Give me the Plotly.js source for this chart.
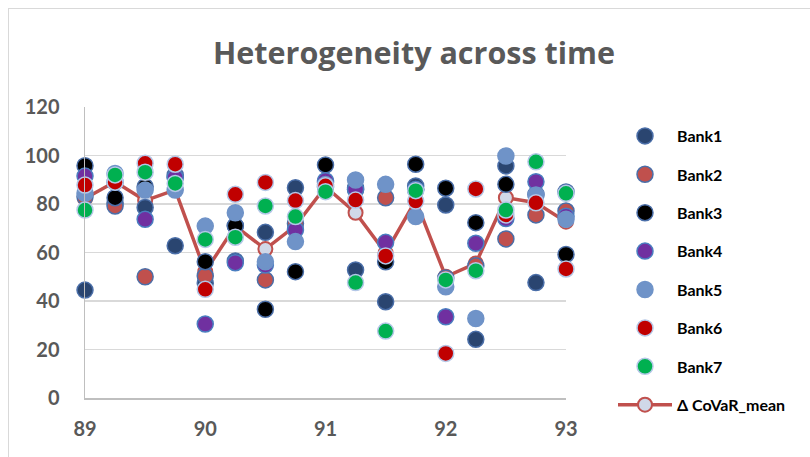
<!DOCTYPE html>
<html>
<head>
<meta charset="utf-8">
<script src="https://cdn.plot.ly/plotly-3.0.1.min.js"></script>
<style>
  html, body { margin: 0; padding: 0; background: #fff; overflow: hidden; }
  #chart { width: 810px; height: 457px; position: absolute; left: 0; top: 0; }
  #frame { position: absolute; left: 8px; top: 8px; width: 900px; height: 900px;
           border: 1.5px solid #D9D9D9; pointer-events: none; }
</style>
</head>
<body>
<div id="chart"></div>
<div id="frame"></div>
<script>
const periods = [89, 89.25, 89.5, 89.75, 90, 90.25, 90.5, 90.75, 91, 91.25, 91.5, 91.75, 92, 92.25, 92.5, 92.75, 93];
const tickValues = [89, 90, 91, 92, 93];
const tickLabels = ["89", "90", "91", "92", "93"];

const bank1 = [44.5, 80.5, 78.6, 62.8, 47.3, 56.5, 68.3, 86.7, 89.0, 52.8, 39.7, 87.4, 79.6, 24.2, 95.7, 47.6, 85.0];
const bank2 = [83.0, 79.2, 50.0, 92.0, 50.3, 71.0, 48.7, 72.0, 87.0, 86.0, 82.6, 86.0, 49.5, 54.5, 65.6, 75.5, 77.1];
const bank3 = [95.8, 82.6, 87.1, 91.0, 56.2, 71.0, 36.6, 52.1, 96.1, 86.6, 56.2, 96.4, 86.5, 72.3, 88.1, 84.0, 59.2];
const bank4 = [91.5, 89.0, 73.7, 91.0, 30.5, 55.8, 54.8, 69.3, 89.6, 86.0, 64.2, 86.0, 33.5, 63.8, 74.0, 89.2, 75.0];
const bank5 = [84.4, 92.6, 85.8, 85.8, 70.9, 76.4, 56.2, 64.5, 88.0, 89.9, 88.1, 74.8, 45.9, 32.8, 99.8, 83.7, 73.7];
const bank6 = [87.8, 89.0, 96.8, 96.4, 44.8, 84.0, 88.9, 81.4, 87.5, 81.6, 58.6, 81.2, 18.4, 86.2, 75.5, 80.5, 53.2];
const bank7 = [77.5, 92.0, 93.1, 88.5, 65.4, 66.3, 79.2, 74.8, 85.1, 47.6, 27.6, 85.5, 48.7, 52.5, 77.5, 97.4, 84.4];
const covarMean = [82.3, 89.2, 81.4, 85.8, 52.1, 70.9, 61.4, 71.0, 87.1, 76.4, 59.8, 81.5, 50.0, 55.5, 82.6, 80.5, 72.7];

const seriesNames = ["Bank1", "Bank2", "Bank3", "Bank4", "Bank5", "Bank6", "Bank7"];
const seriesValues = [bank1, bank2, bank3, bank4, bank5, bank6, bank7];
const fills = ["#2A4570", "#C0504D", "#000000", "#7030A0", "#6F93C8", "#C00000", "#00B050"];
const borders = ["#4A6EA8", "#4A6EA8", "#4A6EA8", "#4A7EC0", "#6F93C8", "#B4C7E7", "#B4C7E7"];

const traces = [];
traces.push({
  x: periods, y: covarMean, type: "scatter", mode: "lines+markers",
  name: "Δ CoVaR_mean", legendrank: 8, legendgroup: "m",
  line: { color: "#C0504D", width: 3.5 },
  marker: { size: 14, color: "#D0D8E8", line: { color: "#C0504D", width: 2 } },
  cliponaxis: false
});
seriesNames.forEach((n, i) => {
  traces.push({
    x: periods, y: seriesValues[i], type: "scatter", mode: "markers",
    name: n, legendrank: i + 1, legendgroup: "g" + i,
    marker: { size: 16, color: fills[i], line: { color: borders[i], width: 1.5 } },
    cliponaxis: false
  });
});

const font = "Lato, 'Open Sans', sans-serif";
const layout = {
  width: 810, height: 457,
  margin: { l: 85, r: 244, t: 107, b: 59 },
  paper_bgcolor: "#ffffff", plot_bgcolor: "#ffffff",
  font: { family: font, color: "#595959" },
  title: {
    text: "<b>Heterogeneity across time</b>",
    font: { family: "'Open Sans', sans-serif", size: 30.5, color: "#595959" },
    x: 414 / 810, xanchor: "center", xref: "container",
    y: 1 - 53 / 457, yanchor: "middle", yref: "container"
  },
  xaxis: {
    range: [89, 93], tickvals: tickValues, ticktext: tickLabels,
    showgrid: false, zeroline: false, showline: true, linecolor: "#BFBFBF", linewidth: 1.5,
    ticks: "", ticklabelstandoff: 12,
    tickfont: { family: font, size: 20, color: "#595959", weight: "bold" }
  },
  yaxis: {
    range: [0, 120], dtick: 20, tick0: 0,
    showgrid: true, gridcolor: "#D9D9D9", gridwidth: 1.3,
    zeroline: false, showline: true, linecolor: "#BFBFBF", linewidth: 1.5,
    ticks: "", ticklabelstandoff: 20,
    tickfont: { family: font, size: 20, color: "#595959", weight: "bold" }
  },
  showlegend: true,
  legend: {
    x: (613 - 85) / 481, xanchor: "left",
    y: (398 - 119) / 291, yanchor: "top",
    itemwidth: 54, tracegroupgap: 14.6, maxheight: 450,
    font: { family: font, size: 16, color: "#000000", weight: "bold" },
    bgcolor: "rgba(0,0,0,0)"
  },
  hovermode: false
};

Plotly.newPlot("chart", traces, layout, { displayModeBar: false, staticPlot: true });
</script>
</body>
</html>
